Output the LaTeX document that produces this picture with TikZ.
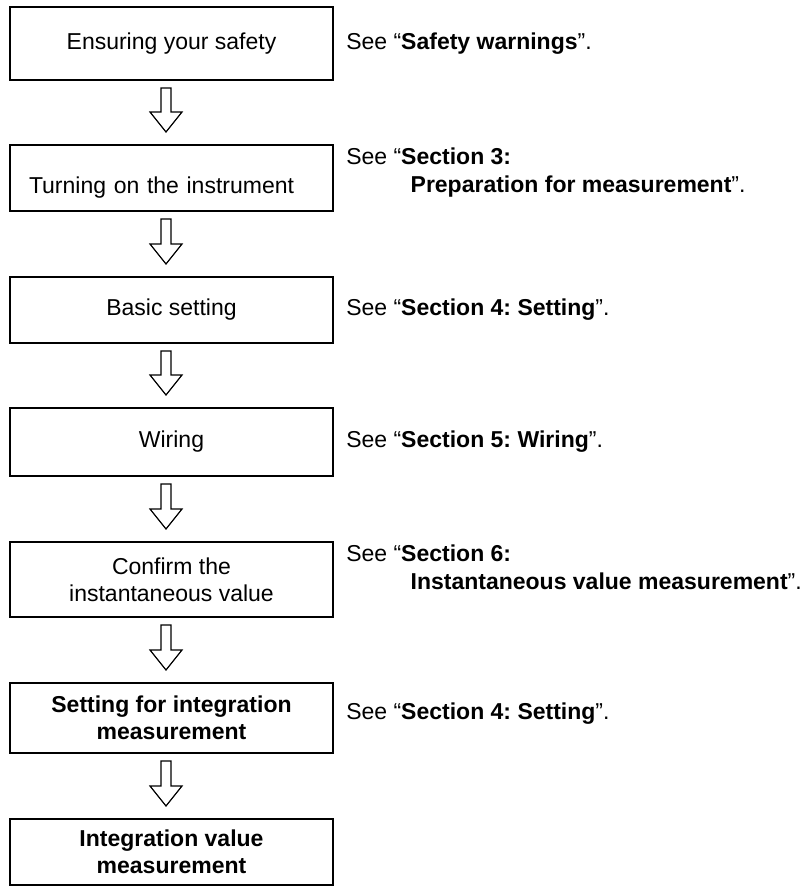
\documentclass[tikz,border=0pt]{standalone}
\usepackage{fontspec}
\setmainfont{Liberation Sans}
\frenchspacing
\usetikzlibrary{calc,positioning}

% hollow block arrow between two step boxes
\newcommand{\flowarrow}[2]{%
\draw[blockarrow] ($(#1.south)+(-10.5,7)$) -- ($(#2.north)+(-10.5,-32)$) -- ($(#2.north)+(-21.5,-32)$)
  -- ($(#2.north)+(-5.5,-12)$) -- ($(#2.north)+(10.5,-32)$) -- ($(#2.north)+(-0.5,-32)$)
  -- ($(#1.south)+(-0.5,7)$) -- cycle;}

\begin{document}
\begin{tikzpicture}[x=0.75pt,y=-0.75pt,
  stepbox/.style={draw, line width=1.5pt, minimum width=242.25pt, inner sep=0pt, align=center,
    font=\fontsize{17.25}{20.5}\selectfont},
  seetext/.style={inner sep=0pt, align=left, font=\fontsize{17.25}{20.5}\selectfont},
  blockarrow/.style={line width=0.9pt, line join=miter}]
\useasboundingbox (0,0) rectangle (805,886);

\node[stepbox, minimum height=54.75pt] (S1) at (171.5,43.5) {Ensuring your safety};
\node[stepbox, minimum height=49.5pt, text width=213.75pt, align=left, text height=27pt, text depth=3.5pt]
  (S2) at (171.5,178) {Turning on the instrument};
\node[stepbox, minimum height=49.5pt] (S3) at (171.5,310) {Basic setting};
\node[stepbox, minimum height=51pt] (S4) at (171.5,442) {Wiring};
\node[stepbox, minimum height=56.25pt] (S5) at (171.5,579.5) {Confirm the\\instantaneous value};
\node[stepbox, minimum height=52.5pt] (S6) at (171.5,718) {\textbf{Setting for integration}\\\textbf{measurement}};
\node[stepbox, minimum height=49.5pt] (S7) at (171.5,852) {\textbf{Integration value}\\\textbf{measurement}};

\foreach \a/\b in {S1/S2,S2/S3,S3/S4,S4/S5,S5/S6,S6/S7}
  \flowarrow{\a}{\b};

\node[seetext, right=9pt of S1] (R1) {See “\textbf{Safety warnings}”.};
\node[seetext, anchor=north west] (R2) at ($(S2.north east)+(12,4)$)
  {See “\textbf{Section 3:}\\\hspace*{2.8em}\textbf{Preparation for measurement}”.};
\node[seetext, right=9pt of S3] (R3) {See “\textbf{Section 4: Setting}”.};
\node[seetext, right=9pt of S4] (R4) {See “\textbf{Section 5: Wiring}”.};
\node[seetext, anchor=north west] (R5) at ($(S5.north east)+(12,4)$)
  {See “\textbf{Section 6:}\\\hspace*{2.8em}\textbf{Instantaneous value measurement}”.};
\node[seetext, right=9pt of S6, yshift=3pt] (R6) {See “\textbf{Section 4: Setting}”.};
\end{tikzpicture}
\end{document}
